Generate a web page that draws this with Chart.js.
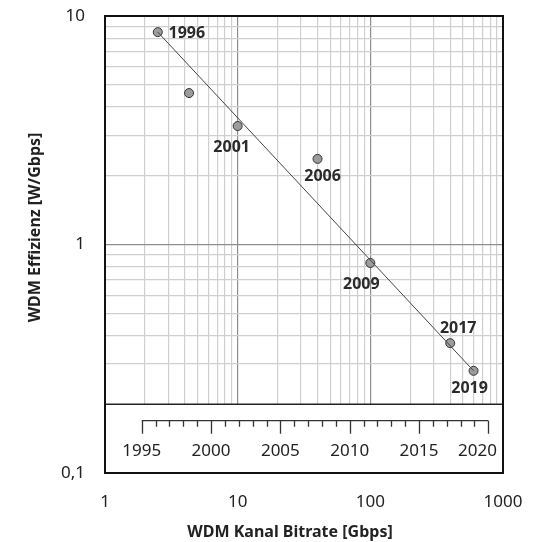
<!DOCTYPE html>
<html>
<head>
<meta charset="utf-8">
<script src="https://cdn.jsdelivr.net/npm/chart.js@4"></script>
<style>
html,body{margin:0;background:#fff}
</style>
</head>
<body>
<canvas id="c" width="539" height="542"></canvas>
<script>
/* DATA */

const years=[1996,1998,2001,2006,2009,2017,2019];
const bitrate=[2.5,4.3,10,40,100,400,600];
const efficiency=[8.5,4.6,3.3,2.37,0.83,0.37,0.28];
const pointLabels=["1996","","2001","2006","2009","2017","2019"];

const trendX=[2.5,600];
const trendY=[8.5,0.28];

const xTickLabels=[1,10,100,1000];
const yTickLabels=[0.1,1,10];
const yearFirst=1995, yearLast=2020, yearStep=5;
const yearBoxTop=0.2;

const xTitle="WDM Kanal Bitrate [Gbps]";
const yTitle="WDM Effizienz [W/Gbps]";

/* HELPERS */

const isPow10=v=>Math.abs(Math.log10(v)-Math.round(Math.log10(v)))<1e-9;

function logTicks(lo,hi){
let out=[];
for(let e=Math.log10(lo);e<Math.log10(hi);e++){
for(let m=1;m<10;m++) out.push(+(m*Math.pow(10,e)).toPrecision(6));
}
out.push(hi);
return out.map(v=>({value:v}));
}

const FONT="'Noto Sans', sans-serif";
const gridColor=c=>isPow10(c.tick.value)?"#8e8e8e":"#cfcfcf";

/* label offsets, text centre relative to point centre */
const labelOffset=[[29,1],[0,0],[-6,21],[5,18],[-9,21],[8,-15],[-4,18]];

/* YEAR BOX, LABELS, FRAME, TITLES */

const yearBox={
id:"yearBox",
beforeDatasetsDraw(chart){
const {ctx,chartArea:a,scales}=chart;
const top=scales.y.getPixelForValue(yearBoxTop);
const yr=scales.yr;
ctx.save();
ctx.fillStyle="#fff";
ctx.fillRect(a.left,top,a.right-a.left,a.bottom-top);
ctx.strokeStyle="#222";
ctx.lineWidth=1.5;
ctx.beginPath();
ctx.moveTo(a.left,top);
ctx.lineTo(a.right,top);
ctx.stroke();

const yl=top+16.5;
ctx.strokeStyle="#333";
ctx.lineWidth=1.3;
ctx.beginPath();
ctx.moveTo(yr.getPixelForValue(yearFirst),yl);
ctx.lineTo(yr.getPixelForValue(yearLast),yl);
for(let y=yearFirst;y<=yearLast;y++){
const x=Math.round(yr.getPixelForValue(y))+0.5;
ctx.moveTo(x,yl);
ctx.lineTo(x,yl+(y%yearStep===0?13:6));
}
ctx.stroke();

ctx.fillStyle="#222";
ctx.font="17px "+FONT;
ctx.textAlign="center";
ctx.textBaseline="middle";
for(let y=yearFirst;y<=yearLast;y+=yearStep){
const t=String(y);
const w=ctx.measureText(t).width;
const x=Math.min(yr.getPixelForValue(y),a.right-6-w/2);
ctx.fillText(t,x,top+47);
}
ctx.restore();
},
afterDatasetsDraw(chart){
const {ctx}=chart;
const meta=chart.getDatasetMeta(1);
ctx.save();
ctx.fillStyle="#2b2b2b";
ctx.font="bold 16px "+FONT;
ctx.textAlign="center";
ctx.textBaseline="middle";
meta.data.forEach((p,i)=>{
if(!pointLabels[i]) return;
ctx.fillText(pointLabels[i],p.x+labelOffset[i][0],p.y+labelOffset[i][1]);
});
ctx.restore();
},
afterDraw(chart){
const {ctx,chartArea:a}=chart;
ctx.save();
ctx.strokeStyle="#111";
ctx.lineWidth=2;
ctx.strokeRect(a.left,a.top,a.right-a.left,a.bottom-a.top);

ctx.fillStyle="#222";
ctx.font="bold 16px "+FONT;
ctx.textAlign="center";
ctx.textBaseline="middle";
ctx.fillText(xTitle,(a.left+a.right)/2-14,532);
ctx.translate(35,(a.top+a.bottom)/2-17);
ctx.rotate(-Math.PI/2);
ctx.fillText(yTitle,0,0);
ctx.restore();
}
};

/* CHART */

new Chart(document.getElementById("c"),{
type:"scatter",
data:{
datasets:[
{
type:"line",
data:trendX.map((x,i)=>({x,y:trendY[i]})),
borderColor:"#444",
borderWidth:1,
pointRadius:0,
fill:false
},
{
data:bitrate.map((x,i)=>({x,y:efficiency[i]})),
backgroundColor:"#9c9c9c",
borderColor:"#333",
borderWidth:1,
pointRadius:4.5
}
]
},
options:{
responsive:false,
animation:false,
layout:{padding:{top:16,right:36,left:0,bottom:0}},
plugins:{legend:{display:false},tooltip:{enabled:false}},
scales:{
x:{
type:"logarithmic",
min:1,max:1000,
afterBuildTicks:s=>{s.ticks=logTicks(1,1000);},
afterFit:s=>{s.height=69;s.paddingLeft=0;s.paddingRight=0;},
grid:{color:gridColor,lineWidth:1.2,drawTicks:false},
border:{display:false},
ticks:{
autoSkip:false,maxRotation:0,padding:19,color:"#222",
font:{family:FONT,size:17},
callback:v=>xTickLabels.includes(v)?String(v):""
}
},
y:{
type:"logarithmic",
min:0.1,max:10,
afterBuildTicks:s=>{s.ticks=logTicks(0.1,10);},
afterFit:s=>{s.width=105;s.paddingTop=0;s.paddingBottom=0;},
grid:{color:gridColor,lineWidth:1.2,drawTicks:false},
border:{display:false},
ticks:{
autoSkip:false,padding:20,color:"#222",
font:{family:FONT,size:17},
callback:v=>yTickLabels.includes(v)?String(v).replace(".",","):""
}
},
yr:{
type:"linear",
position:"bottom",
display:false,
min:1992.35,max:2021.06
}
}
},
plugins:[yearBox]
});
</script>
</body>
</html>
